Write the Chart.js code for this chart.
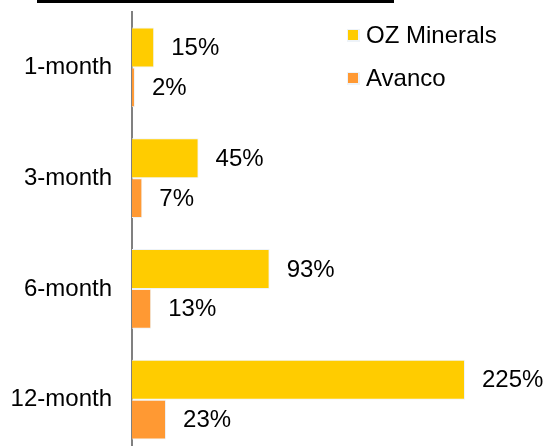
<!DOCTYPE html>
<html>
<head>
<meta charset="utf-8">
<script src="https://cdn.jsdelivr.net/npm/chart.js@4.4.1/dist/chart.umd.min.js"></script>
<style>
  html, body { margin: 0; padding: 0; background: #fff; overflow: hidden; }
  #wrap { position: relative; width: 544px; height: 460px; }
  #titleBar { position: absolute; left: 37px; top: 0; width: 357px; height: 3px; background: #000; }
</style>
</head>
<body>
<div id="wrap">
  <div id="titleBar"></div>
  <canvas id="perfChart"></canvas>
</div>
<script>
// periods and share price performance (%)
const periods = ['1-month', '3-month', '6-month', '12-month'];
const ozMinerals = [15, 45, 93, 225];
const avanco = [2, 7, 13, 23];
const seriesNames = ['OZ Minerals', 'Avanco'];
const seriesColors = ['#FFCC00', '#FF9933'];

const FONT = 'Liberation Sans, Arial, sans-serif';

// value labels to the right of each bar
const barLabels = {
    id: 'barLabels',
    afterDatasetsDraw(chart) {
        const ctx = chart.ctx;
        ctx.save();
        ctx.font = '24px ' + FONT;
        ctx.fillStyle = '#000';
        ctx.textAlign = 'left';
        ctx.textBaseline = 'middle';
        chart.data.datasets.forEach((ds, i) => {
            chart.getDatasetMeta(i).data.forEach((bar, j) => {
                ctx.fillText(ds.data[j] + '%', bar.x + 17, bar.y + 1);
            });
        });
        ctx.restore();
    }
};

// legend in the top right corner
const cornerLegend = {
    id: 'cornerLegend',
    afterDraw(chart) {
        const ctx = chart.ctx;
        ctx.save();
        ctx.font = '24px ' + FONT;
        ctx.textBaseline = 'middle';
        chart.data.datasets.forEach((ds, i) => {
            const y = 35 + i * 43;
            ctx.fillStyle = '#eef3f8';
            ctx.fillRect(347, y - 6, 13, 13);
            ctx.fillStyle = ds.backgroundColor;
            ctx.fillRect(348, y - 5, 10, 10);
            ctx.fillStyle = '#000';
            ctx.fillText(ds.label, 366, y + 1);
        });
        ctx.restore();
    }
};

const ctx = document.getElementById('perfChart').getContext('2d');
new Chart(ctx, {
    type: 'bar',
    data: {
        labels: periods,
        datasets: [{
            label: seriesNames[0],
            data: ozMinerals,
            backgroundColor: seriesColors[0],
            borderColor: '#eef3f8',
            borderWidth: 1
        }, {
            label: seriesNames[1],
            data: avanco,
            backgroundColor: seriesColors[1],
            borderColor: '#eef3f8',
            borderWidth: 1
        }]
    },
    options: {
        indexAxis: 'y',
        responsive: true,
        maintainAspectRatio: false,
        animation: false,
        categoryPercentage: 0.72,
        barPercentage: 1,
        layout: { padding: { top: 12, bottom: 5, right: 42, left: 0 } },
        plugins: {
            legend: { display: false },
            tooltip: { enabled: false }
        },
        scales: {
            x: {
                display: false,
                min: 0,
                max: 250
            },
            y: {
                grid: { display: false, drawTicks: false },
                border: { display: true, color: '#808080', width: 2 },
                ticks: {
                    color: '#000',
                    padding: 20,
                    font: { family: FONT, size: 24 }
                },
                afterFit(scale) {
                    scale.width = 132;
                    scale.paddingTop = 0;
                    scale.paddingBottom = 0;
                }
            }
        }
    },
    plugins: [barLabels, cornerLegend]
});
</script>
</body>
</html>
